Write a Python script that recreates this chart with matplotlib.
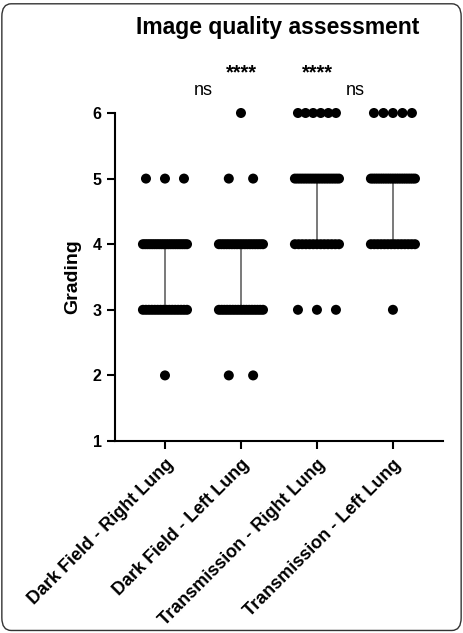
import numpy as np
import matplotlib
matplotlib.use("Agg")
import matplotlib.pyplot as plt
from matplotlib.patches import FancyBboxPatch

plt.rcParams["font.family"] = ["Liberation Sans", "DejaVu Sans"]

# ── data: number of images per grade for each group ───────────────────────
groups = ["Dark Field - Right Lung", "Dark Field - Left Lung",
          "Transmission - Right Lung", "Transmission - Left Lung"]
grades = [2, 3, 4, 5, 6]
dark_right = [1, 16, 20, 3, 0]
dark_left = [2, 17, 18, 2, 1]
trans_right = [0, 3, 13, 18, 6]
trans_left = [0, 1, 14, 20, 5]
counts = [dark_right, dark_left, trans_right, trans_left]

# significance labels: (x position, label)
sig_ns = [(1.5, "ns"), (3.5, "ns")]
sig_stars = [(2, "****"), (3, "****")]

fig = plt.figure(figsize=(4.63, 6.33), dpi=100)
ax = fig.add_axes([0.248, 0.3033, 0.709, 0.5182])

for i, cnt in enumerate(counts):
    xc = i + 1
    values = []
    for g, n in zip(grades, cnt):
        values += [g] * n
        if n == 0:
            continue
        # spread points of equal grade horizontally (scatter-dot style)
        width = 0.58 if n > 8 else 0.5
        step = min(0.32, width / max(n - 1, 1))
        offs = (np.arange(n) - (n - 1) / 2) * step
        ax.scatter(xc + offs, [g] * n, s=52, color="black",
                   edgecolors="none", zorder=3, clip_on=False)
    q1, q3 = np.percentile(values, [25, 75])
    ax.plot([xc, xc], [q1, q3], color="#555555", linewidth=1.1, zorder=2)

ax.set_xlim(0.34, 4.66)
ax.set_ylim(1, 6)
ax.set_yticks([1, 2, 3, 4, 5, 6])
ax.set_xticks([1, 2, 3, 4])
ax.set_xticklabels(groups, rotation=45, ha="right", rotation_mode="anchor",
                   fontsize=13, fontweight="bold")
for lab in ax.get_yticklabels():
    lab.set_fontweight("bold")
    lab.set_fontsize(11.5)
ax.tick_params(width=1.5, length=6)
ax.tick_params(axis="x", pad=5)
ax.spines["top"].set_visible(False)
ax.spines["right"].set_visible(False)
ax.spines["left"].set_linewidth(1.5)
ax.spines["bottom"].set_linewidth(1.5)
ax.set_ylabel("Grading", fontsize=14, fontweight="bold", labelpad=8)

for x, t in sig_ns:
    ax.text(x, 6.27, t, ha="center", va="baseline", fontsize=13,
            clip_on=False)
for x, t in sig_stars:
    ax.text(x, 6.53, t, ha="center", va="baseline", fontsize=14.5,
            fontweight="bold", clip_on=False)

fig.text(0.60, 0.957, "Image quality assessment", ha="center", va="center",
         fontsize=16.5, fontweight="bold")

# rounded frame around the panel
frame = FancyBboxPatch((0.004, 0.004), 0.992, 0.99,
                       boxstyle="round,pad=0,rounding_size=0.02",
                       transform=fig.transFigure, fill=False,
                       edgecolor="#333333", linewidth=1.0)
fig.patches.append(frame)

fig.savefig("out.png", dpi=100)
